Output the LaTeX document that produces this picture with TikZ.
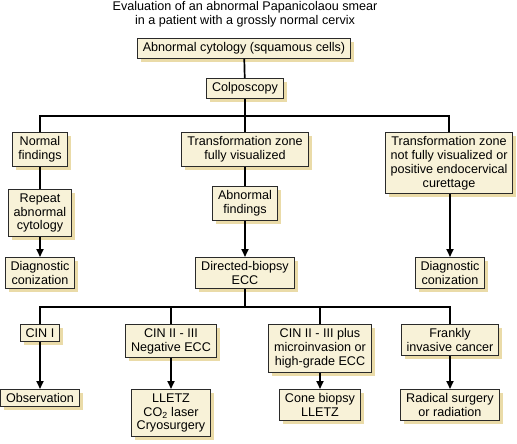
\documentclass[tikz,border=0pt]{standalone}
\usepackage{fontspec}
\setmainfont{Liberation Sans}
\usepackage{tikz}
\usetikzlibrary{arrows.meta}
\definecolor{box-fill}{HTML}{F8F2D8}
\definecolor{box-shade}{HTML}{EADBA8}
\definecolor{box-line}{HTML}{2A2A2A}

\begin{document}
\begin{tikzpicture}[x=1pt, y=-1pt,
    font=\fontsize{12.6}{13.9}\selectfont,
    step box/.style={draw=box-line, line width=1pt, fill=box-fill, align=center,
        inner xsep=5.5pt, inner ysep=4pt,
        preaction={fill=box-shade, draw=none, transform canvas={shift={(3.5pt,-3.5pt)}}}},
    link/.style={line width=1.7pt, black},
    arrow/.style={link, -{Triangle[length=8pt, width=7pt]}}]
    \useasboundingbox (0,0) rectangle (517,444);
    % Title
    \node[align=center] (title) at (245,14) {Evaluation of an abnormal Papanicolaou smear\\in a patient with a grossly normal cervix};
    % Top of the tree
    \node[step box] (cytology) at (244,48.5) {Abnormal cytology (squamous cells)};
    \node[step box] (colpo) at (245,88.5) {Colposcopy};
    % Colposcopy outcomes
    \node[step box, anchor=north] (normal) at (40,132) {Normal\\findings};
    \node[step box, anchor=north] (tzfull) at (245,132) {Transformation zone\\fully visualized};
    \node[step box, anchor=north] (tznot) at (449,132) {Transformation zone\\not fully visualized or\\positive endocervical\\curettage};
    \node[step box, anchor=north] (repeat) at (40,189) {Repeat\\abnormal\\cytology};
    \node[step box, anchor=north] (abfind) at (245,186) {Abnormal\\findings};
    \node[step box, anchor=north] (diagleft) at (40,257) {Diagnostic\\conization};
    \node[step box, anchor=north] (biopsy) at (245,257) {Directed-biopsy\\ECC};
    \node[step box, anchor=north] (diagright) at (450,257) {Diagnostic\\conization};
    % Biopsy outcomes
    \node[step box, anchor=north] (cin1) at (40,324) {CIN I};
    \node[step box, anchor=north] (cin2) at (171,324) {CIN II - III\\Negative ECC};
    \node[step box, anchor=north] (cin3) at (320,324) {CIN II - III plus\\microinvasion or\\high-grade ECC};
    \node[step box, anchor=north] (invasive) at (450,324) {Frankly\\invasive cancer};
    % Treatments
    \node[step box, anchor=north] (observe) at (40,389) {Observation};
    \node[step box, anchor=north] (lletz) at (171,389) {LLETZ\\CO\textsubscript{2} laser\\Cryosurgery};
    \node[step box, anchor=north] (cone) at (320,389) {Cone biopsy\\LLETZ};
    \node[step box, anchor=north] (radical) at (450,389) {Radical surgery\\or radiation};
    % Branch points
    \coordinate (bar1) at (245,116);
    \coordinate (bar2) at (245,307);
    % Connectors
    \draw[link] (cytology) -- (colpo);
    \draw[link] (colpo) -- (bar1);
    \draw[link] (normal.north) |- (bar1) -| (tznot.north);
    \draw[link] (bar1) -- (tzfull.north);
    \draw[link] (normal) -- (repeat);
    \draw[link] (tzfull) -- (abfind);
    \draw[arrow] (repeat) -- (diagleft);
    \draw[arrow] (abfind) -- (biopsy);
    \draw[arrow] (tznot.south -| diagright) -- (diagright);
    \draw[link] (biopsy) -- (bar2);
    \draw[link] (cin1.north) |- (bar2) -| (invasive.north);
    \draw[link] (cin2.north) |- (bar2) -| (cin3.north);
    \draw[arrow] (cin1) -- (observe);
    \draw[arrow] (cin2) -- (lletz);
    \draw[arrow] (cin3) -- (cone);
    \draw[arrow] (invasive) -- (radical);
\end{tikzpicture}
\end{document}
